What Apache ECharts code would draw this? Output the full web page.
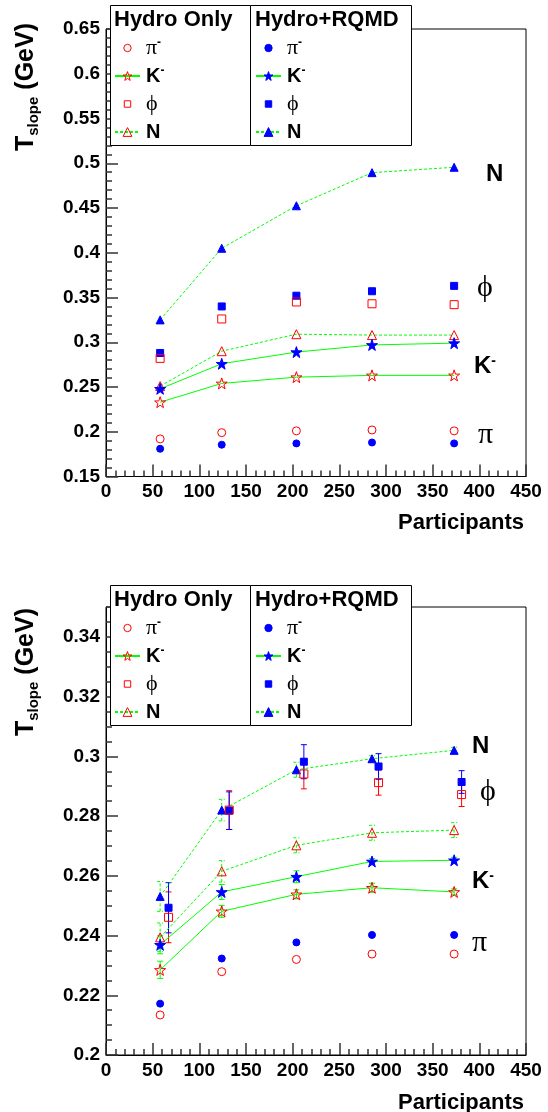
<!DOCTYPE html>
<html><head><meta charset="utf-8">
<script src="https://cdn.jsdelivr.net/npm/echarts@6/dist/echarts.min.js"></script>
<style>html,body{margin:0;padding:0;background:#fff}#c{width:548px;height:1112px}</style>
</head><body><div id="c"></div>
<script>
// ---------------- data ----------------
const participants = [58, 124, 204, 285, 373];
const participantsPhi = [67, 132, 212, 292, 381];

const xRange = [0, 450];
const xStep = 50;
const topYRange = [0.15, 0.65];
const topYStep = 0.05;
const botYRange = [0.2, 0.35];
const botYStep = 0.02;

// top panel
const topPiHydro  = [0.192, 0.199, 0.201, 0.202, 0.201];
const topPiRqmd   = [0.181, 0.1855, 0.187, 0.188, 0.187];
const topKHydro   = [0.233, 0.254, 0.261, 0.263, 0.263];
const topKRqmd    = [0.248, 0.276, 0.289, 0.297, 0.299];
const topPhiHydro = [0.282, 0.326, 0.345, 0.343, 0.342];
const topPhiRqmd  = [0.288, 0.340, 0.352, 0.357, 0.363];
const topNHydro   = [0.251, 0.290, 0.309, 0.308, 0.308];
const topNRqmd    = [0.325, 0.405, 0.4525, 0.4895, 0.4955];

// bottom panel
const botPiHydro     = [0.2134, 0.2279, 0.2320, 0.2338, 0.2338];
const botPiRqmd      = [0.2172, 0.2323, 0.2377, 0.2402, 0.2402];
const botKHydro      = [0.2285, 0.2481, 0.2538, 0.2560, 0.2546];
const botKHydroErr   = [0.0029, 0.0020, 0.0015, 0.0015, 0.0010];
const botKRqmd       = [0.2369, 0.2546, 0.2597, 0.2648, 0.2652];
const botKRqmdErr    = [0.0030, 0.0025, 0.0020, 0.0010, 0.0010];
const botPhiHydro    = [0.2461, 0.2820, 0.2941, 0.2912, 0.2872];
const botPhiHydroErr = [0.0085, 0.0065, 0.0050, 0.0042, 0.0040];
const botPhiRqmd     = [0.2493, 0.2818, 0.2982, 0.2966, 0.2914];
const botPhiRqmdErr  = [0.0084, 0.0063, 0.0057, 0.0043, 0.0038];
const botNHydro      = [0.2394, 0.2615, 0.2702, 0.2744, 0.2753];
const botNHydroErr   = [0.0048, 0.0036, 0.0025, 0.0025, 0.0025];
const botNRqmd       = [0.2531, 0.2820, 0.2955, 0.2992, 0.3020];
const botNRqmdErr    = [0.0050, 0.0036, 0.0025, 0.0010, 0.0010];

// ---------------- styling ----------------
const RED = '#ff0000', BLUE = '#0000ff', GREEN = '#00ff00', NONE = 'rgba(0,0,0,0)';
const SANS = 'Liberation Sans, Arial, Helvetica, sans-serif';
const SERIF = 'Liberation Serif, DejaVu Serif, Times New Roman, serif';
const STAR = 'path://M50,0 L61.8,35.1 L98.1,35.1 L68.8,56.8 L79.4,91.3 L50,70.5 L20.6,91.3 L31.2,56.8 L1.9,35.1 L38.2,35.1 Z';
const ICON_SQUARE = 'path://M0,0 M12,12 M2.5,2.5 L9.5,2.5 L9.5,9.5 L2.5,9.5 Z';
const ICON_CIRCLE = 'path://M0,0 M12,12 M10,6 A4,4 0 1 1 2,6 A4,4 0 1 1 10,6 Z';

function pts(xs, ys) { return xs.map((x, i) => [x, ys[i]]); }

function scatterS(name, xs, ys, symbol, size, fill, stroke, gi) {
  return { name, type: 'scatter', xAxisIndex: gi, yAxisIndex: gi, data: pts(xs, ys),
    symbol, symbolSize: size, z: 4, silent: true,
    itemStyle: { color: fill, borderColor: stroke, borderWidth: 1, opacity: 1 } };
}
function lineS(name, xs, ys, symbol, size, fill, stroke, dashed, gi) {
  return { name, type: 'line', xAxisIndex: gi, yAxisIndex: gi, data: pts(xs, ys),
    symbol, symbolSize: size, showSymbol: true, showAllSymbol: true, z: 4, silent: true,
    lineStyle: { color: GREEN, width: 1, type: dashed ? [3, 2] : 'solid' },
    itemStyle: { color: fill, borderColor: stroke, borderWidth: 1 } };
}
function errS(xs, ys, errs, color, dashed, gi) {
  return { type: 'custom', xAxisIndex: gi, yAxisIndex: gi, z: 3, silent: true,
    data: xs.map((x, i) => [x, ys[i] - errs[i], ys[i] + errs[i]]),
    encode: { x: 0, y: [1, 2] },
    renderItem: function (params, api) {
      const lo = api.coord([api.value(0), api.value(1)]);
      const hi = api.coord([api.value(0), api.value(2)]);
      const cap = 3;
      const st = { stroke: color, lineWidth: 1, fill: null, lineDash: dashed ? [3, 2] : null };
      return { type: 'group', children: [
        { type: 'line', shape: { x1: lo[0], y1: lo[1], x2: hi[0], y2: hi[1] }, style: st },
        { type: 'line', shape: { x1: lo[0] - cap, y1: lo[1], x2: lo[0] + cap, y2: lo[1] }, style: st },
        { type: 'line', shape: { x1: hi[0] - cap, y1: hi[1], x2: hi[0] + cap, y2: hi[1] }, style: st }
      ] };
    } };
}

const MAJOR = { color: '#333', width: 1.5 };
const MINOR = { color: '#333', width: 1.5 };
function xAxisCfg(gi) {
  return { type: 'value', gridIndex: gi, min: xRange[0], max: xRange[1], interval: xStep,
    axisLine: { show: true, onZero: false, lineStyle: { color: '#000', width: 1 } },
    axisTick: { show: true, inside: true, length: 12, lineStyle: MAJOR },
    minorTick: { show: true, splitNumber: 5, length: 6, lineStyle: MINOR },
    splitLine: { show: false },
    axisLabel: { margin: 6, color: '#000', fontFamily: SANS, fontWeight: 'bold', fontSize: 19 } };
}
function yAxisCfg(gi, range, step, minorSplit) {
  return { type: 'value', gridIndex: gi, min: range[0], max: range[1], interval: step,
    axisLine: { show: true, onZero: false, lineStyle: { color: '#000', width: 1 } },
    axisTick: { show: true, inside: true, length: 12, lineStyle: MAJOR },
    minorTick: { show: true, splitNumber: minorSplit, length: 6, lineStyle: MINOR },
    splitLine: { show: false },
    axisLabel: { margin: 6, color: '#000', fontFamily: SANS, fontWeight: 'bold', fontSize: 19, showMaxLabel: range[1] === 0.65 } };
}

const labelMap = { pi: '{sym|π}{sup|-}', K: '{b|K}{sup|-}', phi: '{sym|ϕ}', N: '{b|N}' };
const richLegend = {
  sym: { fontFamily: SERIF, fontSize: 22, color: '#000', lineHeight: 22 },
  b: { fontFamily: SANS, fontWeight: 'bold', fontSize: 20, color: '#000', lineHeight: 22 },
  sup: { fontFamily: SANS, fontWeight: 'bold', fontSize: 12, color: '#000', lineHeight: 12, verticalAlign: 'top' }
};
function legendItem(name, fill, stroke, icon) {
  const it = { name, itemStyle: { color: fill, borderColor: stroke, borderWidth: 1 } };
  if (icon) it.icon = icon;
  return it;
}
function legendCfg(items, left, top) {
  return { orient: 'vertical', left, top, padding: 0, itemWidth: 25, itemHeight: 11, itemGap: 6,
    selectedMode: false, z: 30, data: items,
    formatter: n => labelMap[n.replace(/(H|R)2?$/, '')],
    textStyle: { rich: richLegend, lineHeight: 22, padding: [0, 0, 0, 1] } };
}
function hydroLegend(sfx) {
  return [legendItem('piH' + sfx, NONE, RED, ICON_CIRCLE), legendItem('KH' + sfx, NONE, RED),
          legendItem('phiH' + sfx, NONE, RED, ICON_SQUARE), legendItem('NH' + sfx, NONE, RED)];
}
function rqmdLegend(sfx) {
  return [legendItem('piR' + sfx, BLUE, BLUE, ICON_CIRCLE), legendItem('KR' + sfx, BLUE, BLUE),
          legendItem('phiR' + sfx, BLUE, BLUE, ICON_SQUARE), legendItem('NR' + sfx, BLUE, BLUE)];
}

const series = [
  // top panel (grid 0)
  lineS('NR', participants, topNRqmd, 'triangle', 8, BLUE, BLUE, true, 0),
  lineS('NH', participants, topNHydro, 'triangle', 9, NONE, RED, true, 0),
  lineS('KR', participants, topKRqmd, STAR, 11, BLUE, BLUE, false, 0),
  lineS('KH', participants, topKHydro, STAR, 11, NONE, RED, false, 0),
  scatterS('phiR', participants, topPhiRqmd, 'rect', 7, BLUE, BLUE, 0),
  scatterS('phiH', participants, topPhiHydro, 'rect', 8, NONE, RED, 0),
  scatterS('piR', participants, topPiRqmd, 'circle', 7, BLUE, BLUE, 0),
  scatterS('piH', participants, topPiHydro, 'circle', 8, NONE, RED, 0),
  // bottom panel (grid 1)
  errS(participants, botNRqmd, botNRqmdErr, GREEN, true, 1),
  errS(participants, botNHydro, botNHydroErr, GREEN, true, 1),
  errS(participants, botKRqmd, botKRqmdErr, GREEN, false, 1),
  errS(participants, botKHydro, botKHydroErr, GREEN, false, 1),
  errS(participantsPhi, botPhiHydro, botPhiHydroErr, RED, false, 1),
  errS(participantsPhi, botPhiRqmd, botPhiRqmdErr, BLUE, false, 1),
  lineS('NR2', participants, botNRqmd, 'triangle', 8, BLUE, BLUE, true, 1),
  lineS('NH2', participants, botNHydro, 'triangle', 9, NONE, RED, true, 1),
  lineS('KR2', participants, botKRqmd, STAR, 11, BLUE, BLUE, false, 1),
  lineS('KH2', participants, botKHydro, STAR, 11, NONE, RED, false, 1),
  scatterS('phiR2', participantsPhi, botPhiRqmd, 'rect', 7, BLUE, BLUE, 1),
  scatterS('phiH2', participantsPhi, botPhiHydro, 'rect', 8, NONE, RED, 1),
  scatterS('piR2', participants, botPiRqmd, 'circle', 7, BLUE, BLUE, 1),
  scatterS('piH2', participants, botPiHydro, 'circle', 8, NONE, RED, 1)
];

// ---------- text decorations (titles, legend frames, annotations) ----------
function txt(x, y, text, rich, align, rotation) {
  return { type: 'text', x, y, z: 40, rotation: rotation || 0, silent: true,
    style: { text, rich, align: align || 'left', verticalAlign: 'middle', fill: '#000' } };
}
const richBig = {
  b: { fontFamily: SANS, fontWeight: 'bold', fontSize: 24, color: '#000' },
  sup: { fontFamily: SANS, fontWeight: 'bold', fontSize: 14, color: '#000', lineHeight: 14, verticalAlign: 'top' },
  g: { fontFamily: SERIF, fontSize: 30, color: '#000' }
};
const richTitle = {
  t: { fontFamily: SANS, fontWeight: 'bold', fontSize: 25, color: '#000', lineHeight: 30 },
  s: { fontFamily: SANS, fontWeight: 'bold', fontSize: 15, color: '#000', lineHeight: 18, verticalAlign: 'bottom' }
};
const richHead = { h: { fontFamily: SANS, fontWeight: 'bold', fontSize: 22, color: '#000' } };
const richX = { h: { fontFamily: SANS, fontWeight: 'bold', fontSize: 22, color: '#000' } };

function panelDecor(dy, titleTop, annotations) {
  const els = [
    { type: 'rect', z: 6, silent: true, shape: { x: 110.5, y: 5.5 + dy, width: 140, height: 140 },
      style: { fill: '#fff', stroke: '#000', lineWidth: 1 } },
    { type: 'rect', z: 6, silent: true, shape: { x: 250.5, y: 5.5 + dy, width: 161, height: 140 },
      style: { fill: '#fff', stroke: '#000', lineWidth: 1 } },
    txt(114, 20 + dy, '{h|Hydro Only}', richHead),
    txt(255, 20 + dy, '{h|Hydro+RQMD}', richHead),
    txt(524, 523 + dy, '{h|Participants}', richX, 'right'),
    txt(26, titleTop, '{t|T}{s|slope}{t| (GeV)}', richTitle, 'right', Math.PI / 2)
  ];
  annotations.forEach(a => els.push(txt(a[0], a[1] + dy, a[2], richBig)));
  return els;
}

const graphic = [].concat(
  panelDecor(0, 23, [[486, 174, '{b|N}'], [477, 288, '{g|ϕ}'], [474, 366, '{b|K}{sup|-}'], [478, 435, '{g|π}']]),
  panelDecor(580, 608, [[472, 166, '{b|N}'], [480, 212, '{g|ϕ}'], [472, 301, '{b|K}{sup|-}'], [472, 363, '{g|π}']])
);

const option = {
  animation: false,
  backgroundColor: '#fff',
  grid: [
    { left: 106, right: 22, top: 29, height: 447.5, show: true, borderColor: '#000', borderWidth: 1, backgroundColor: 'rgba(0,0,0,0)' },
    { left: 106, right: 22, top: 607, height: 448, show: true, borderColor: '#000', borderWidth: 1, backgroundColor: 'rgba(0,0,0,0)' }
  ],
  xAxis: [xAxisCfg(0), xAxisCfg(1)],
  yAxis: [yAxisCfg(0, topYRange, topYStep, 5), yAxisCfg(1, botYRange, botYStep, 4)],
  legend: [
    legendCfg(hydroLegend(''), 114, 37),
    legendCfg(rqmdLegend(''), 255, 37),
    legendCfg(hydroLegend('2'), 114, 617),
    legendCfg(rqmdLegend('2'), 255, 617)
  ],
  graphic: { elements: graphic },
  series
};

const chart = echarts.init(document.getElementById('c'), null, { renderer: 'canvas' });
chart.setOption(option);
</script>
</body></html>
